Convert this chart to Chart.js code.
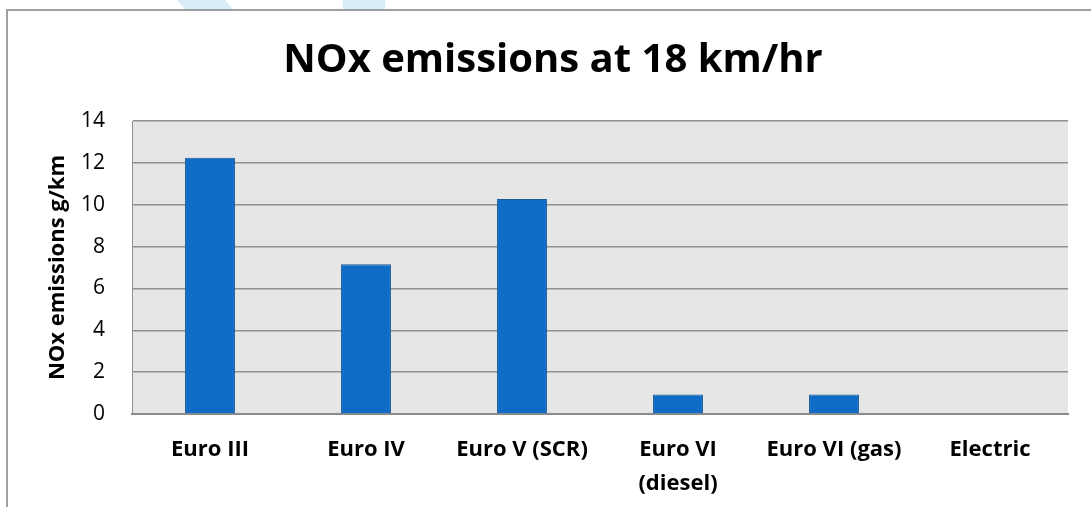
<!DOCTYPE html>
<html lang="en">
<head>
    <meta charset="UTF-8">
    <title>NOx emissions at 18 km/hr</title>
    <script src="https://cdn.jsdelivr.net/npm/chart.js"></script>
</head>
<style>
    body {
    margin: 0;
    width: 1091px;
    height: 507px;
    overflow: hidden;
    background: #ffffff;
    position: relative;
}

.mark {
    position: absolute;
    top: 0;
    height: 9px;
    background: #d8edf7;
}

.frame {
    position: absolute;
    left: 6px;
    top: 9px;
    width: 1100px;
    height: 510px;
    border-top: 2px solid #a0a0a0;
    border-left: 2px solid #a0a0a0;
    box-sizing: border-box;
}

.chart-box {
    position: absolute;
    left: 6px;
    top: 9px;
}
</style>
<body>
    <div class="mark" style="left:177px;width:58px;clip-path:polygon(0 0,48px 0,56px 9px,8px 9px);"></div>
    <div class="mark" style="left:343px;width:42px;"></div>
    <div class="frame"></div>
    <div class="chart-box">
        <canvas id="noxChart" width="1094" height="498"></canvas>
    </div>
    <script>
const categories = ['Euro III', 'Euro IV', 'Euro V (SCR)', ['Euro VI', '(diesel)'], 'Euro VI (gas)', 'Electric'];
const noxValues = [12.25, 7.15, 10.27, 0.93, 0.93, 0];
const yTicks = [0, 2, 4, 6, 8, 10, 12, 14];

// grey plot background, like the spreadsheet chart
const plotBackground = {
    id: 'plotBackground',
    beforeDraw(chart) {
        const { ctx, chartArea } = chart;
        ctx.save();
        ctx.fillStyle = '#e6e6e6';
        ctx.fillRect(chartArea.left, chartArea.top, chartArea.right - chartArea.left, chartArea.bottom - chartArea.top);
        ctx.restore();
    }
};

const ctx = document.getElementById('noxChart').getContext('2d');
new Chart(ctx, {
    type: 'bar',
    data: {
        labels: categories,
        datasets: [{
            label: 'NOx emissions g/km',
            data: noxValues,
            backgroundColor: '#0f6cc6',
            borderColor: '#1d5896',
            borderWidth: 1,
            categoryPercentage: 1,
            barPercentage: 0.32
        }]
    },
    options: {
        responsive: false,
        animation: false,
        layout: {
            padding: { left: 32, right: 32, top: 0, bottom: 0 }
        },
        plugins: {
            legend: { display: false },
            tooltip: { enabled: false },
            title: {
                display: true,
                text: 'NOx emissions at 18 km/hr',
                color: '#000',
                font: { family: 'Open Sans', size: 40, weight: 'bold' },
                padding: { top: 28, bottom: 36 }
            }
        },
        scales: {
            x: {
                afterFit(axis) { axis.height = 93; },
                grid: { display: false, drawTicks: false },
                border: { color: '#8a8a8a', width: 2 },
                ticks: {
                    color: '#000',
                    font: { family: 'Open Sans', size: 22, weight: 'bold', lineHeight: 1.58 },
                    padding: 18,
                    maxRotation: 0,
                    autoSkip: false
                }
            },
            y: {
                min: 0,
                max: 14,
                afterBuildTicks(axis) {
                    axis.ticks = yTicks.map(v => ({ value: v }));
                },
                afterFit(axis) { axis.width = 94; },
                grid: { color: '#8f8f8f', lineWidth: 1.5, drawTicks: false },
                border: { color: '#8f8f8f', width: 1 },
                ticks: {
                    color: '#000',
                    font: { family: 'Open Sans', size: 21 },
                    padding: 27
                },
                title: {
                    display: true,
                    text: 'NOx emissions g/km',
                    color: '#000',
                    font: { family: 'Open Sans', size: 22, weight: 'bold' },
                    padding: { top: 7, bottom: 0 }
                }
            }
        }
    },
    plugins: [plotBackground]
});
    </script>
</body>
</html>
